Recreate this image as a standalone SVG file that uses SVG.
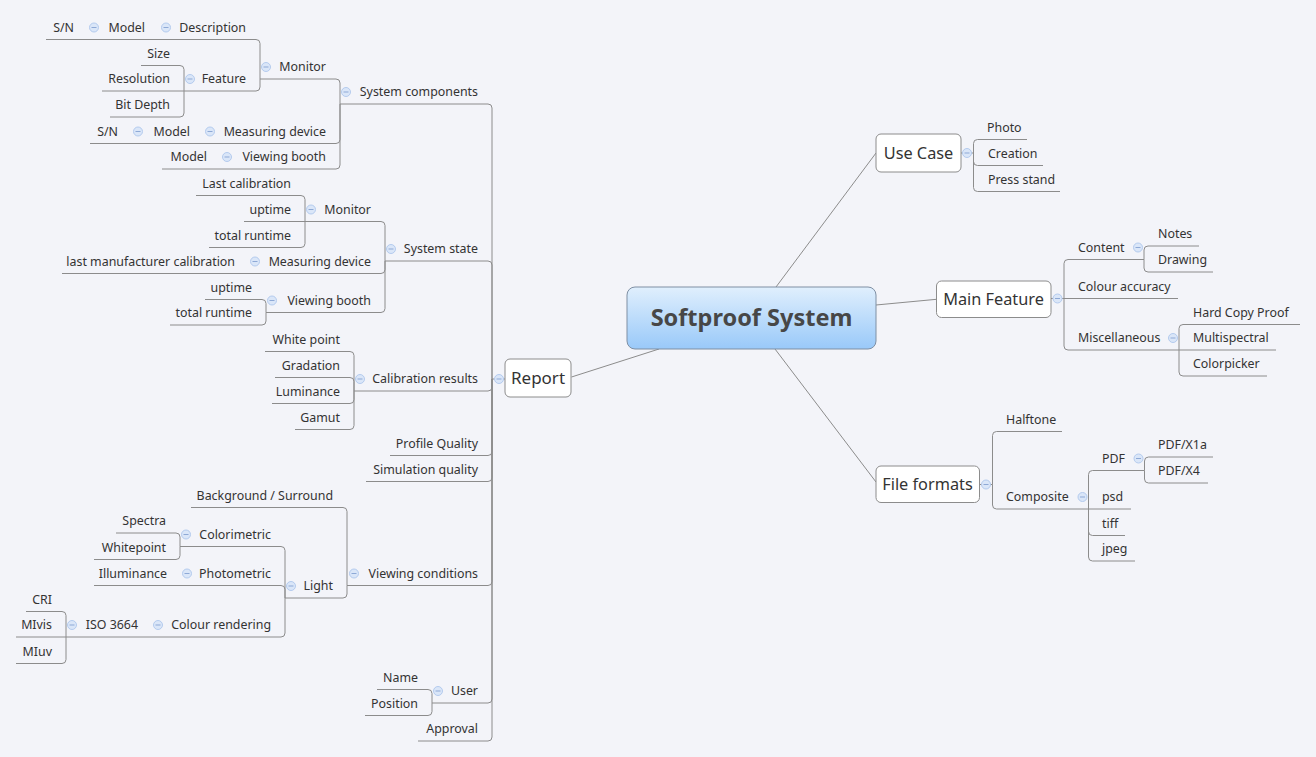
<svg xmlns="http://www.w3.org/2000/svg" width="1316" height="757" viewBox="0 0 1316 757">
<style>
.t{font-family:"Noto Sans","Open Sans",sans-serif;font-size:12.4px;fill:#333}
.e{text-anchor:end}
.bt{font-family:"Noto Sans","Open Sans",sans-serif;font-size:16.3px;fill:#333;text-anchor:middle}
.u{stroke:#8c8c8c;stroke-width:1;fill:none}
.box{fill:#fff;stroke:#8c8c8c;stroke-width:1}
</style>
<defs>
<linearGradient id="cg" x1="0" y1="0" x2="0" y2="1">
<stop offset="0" stop-color="#e0effd"/>
<stop offset="1" stop-color="#99c9f9"/>
</linearGradient>
<g id="tg"><circle r="4.5" fill="#dae6f8" stroke="#b4cbee" stroke-width="1"/><line x1="-2.5" y1="0" x2="2.5" y2="0" stroke="#8ea9d6" stroke-width="1"/></g>
</defs>
<rect width="1316" height="757" fill="#f3f4f9"/>

<g id="connectors" class="u">
<path d="M776,287 L876,153"/>
<path d="M876,305 L936.5,299.3"/>
<path d="M775,349 L876,482"/>
<path d="M659,349 L571.5,377"/>
<!-- Report -->
<path d="M492,379 H505"/>
<path d="M492,379 V108 Q492,104 488,104"/>
<path d="M492,379 V265 Q492,261 488,261"/>
<path d="M492,379 V387 Q492,391 488,391"/>
<path d="M492,379 V451.5 Q492,455.5 488,455.5"/>
<path d="M492,379 V477.5 Q492,481.5 488,481.5"/>
<path d="M492,379 V581.5 Q492,585.5 488,585.5"/>
<path d="M492,379 V699 Q492,703 488,703"/>
<path d="M492,379 V737 Q492,741 488,741"/>
<!-- System components -->
<path d="M340,104 V83 Q340,79 336,79"/>
<path d="M340,104 V139.5 Q340,143.5 336,143.5"/>
<path d="M340,104 V165 Q340,169 336,169"/>
<path d="M260,79 V43.5 Q260,39.5 256,39.5"/>
<path d="M260,79 V87 Q260,91 256,91"/>
<path d="M184,91 V69.5 Q184,65.5 180,65.5"/>
<path d="M184,91 V113 Q184,117 180,117"/>
<!-- System state -->
<path d="M385,261 V225.5 Q385,221.5 381,221.5"/>
<path d="M385,261 V269.5 Q385,273.5 381,273.5"/>
<path d="M385,261 V308.5 Q385,312.5 381,312.5"/>
<path d="M305,221.5 V199.5 Q305,195.5 301,195.5"/>
<path d="M305,221.5 V243.5 Q305,247.5 301,247.5"/>
<path d="M266,312.5 V303.5 Q266,299.5 262,299.5"/>
<path d="M266,312.5 V321 Q266,325 262,325"/>
<!-- Calibration results -->
<path d="M354,391 V355.5 Q354,351.5 350,351.5"/>
<path d="M354,391 V381.5 Q354,377.5 350,377.5"/>
<path d="M354,391 V399.5 Q354,403.5 350,403.5"/>
<path d="M354,391 V425.5 Q354,429.5 350,429.5"/>
<!-- Viewing conditions -->
<path d="M347,585.5 V511.5 Q347,507.5 343,507.5"/>
<path d="M347,585.5 V594 Q347,598 343,598"/>
<path d="M285,598 V550.5 Q285,546.5 281,546.5"/>
<path d="M285,598 V589.5 Q285,585.5 281,585.5"/>
<path d="M285,598 V633 Q285,637 281,637"/>
<path d="M180,546.5 V537 Q180,533 176,533"/>
<path d="M180,546.5 V555.5 Q180,559.5 176,559.5"/>
<path d="M66,637 V615.5 Q66,611.5 62,611.5"/>
<path d="M66,637 V659.5 Q66,663.5 62,663.5"/>
<!-- User -->
<path d="M432,703 V693.5 Q432,689.5 428,689.5"/>
<path d="M432,703 V711.5 Q432,715.5 428,715.5"/>
<!-- Use Case -->
<path d="M961,153 H973.5"/>
<path d="M973.5,153 V143.5 Q973.5,139.5 977.5,139.5"/>
<path d="M973.5,153 V161.5 Q973.5,165.5 977.5,165.5"/>
<path d="M973.5,153 V187.5 Q973.5,191.5 977.5,191.5"/>
<!-- Main Feature -->
<path d="M1051,298.5 H1064"/>
<path d="M1064,298.5 V263.5 Q1064,259.5 1068,259.5"/>
<path d="M1064,298.5 V346 Q1064,350 1068,350"/>
<path d="M1144,259.5 V250 Q1144,246 1148,246"/>
<path d="M1144,259.5 V268 Q1144,272 1148,272"/>
<path d="M1179,350 V328.5 Q1179,324.5 1183,324.5"/>
<path d="M1179,350 V372 Q1179,376 1183,376"/>
<!-- File formats -->
<path d="M979.5,484.5 H992.5"/>
<path d="M992.5,484.5 V435.5 Q992.5,431.5 996.5,431.5"/>
<path d="M992.5,484.5 V505 Q992.5,509 996.5,509"/>
<path d="M1088.5,509 V474.5 Q1088.5,470.5 1092.5,470.5"/>
<path d="M1088.5,509 V531.5 Q1088.5,535.5 1092.5,535.5"/>
<path d="M1088.5,509 V557 Q1088.5,561 1092.5,561"/>
<path d="M1144.5,470.5 V461 Q1144.5,457 1148.5,457"/>
<path d="M1144.5,470.5 V479 Q1144.5,483 1148.5,483"/>
</g>

<g id="central">
<rect x="627" y="287" width="249" height="62" rx="8" fill="url(#cg)" stroke="#7f8fa3" stroke-width="1"/>
<text x="751.5" y="326" style="font-family:'Noto Sans','Open Sans',sans-serif;font-size:23.5px;font-weight:bold;fill:#474747;text-anchor:middle">Softproof System</text>
</g>

<!-- LEFT: Report -->
<g id="report">
<rect class="box" x="505" y="359" width="66" height="38" rx="5"/>
<text class="bt" x="538" y="384" style="font-size:17px">Report</text>
<use href="#tg" x="499" y="379"/>
</g>

<g id="system-components">
<line class="u" x1="340" y1="104" x2="488" y2="104"/>
<text class="t e" x="478" y="96">System components</text>
<use href="#tg" x="346" y="92"/>
</g>
<g id="sc-monitor">
<line class="u" x1="260" y1="79" x2="336" y2="79"/>
<text class="t e" x="326" y="71">Monitor</text>
<use href="#tg" x="266" y="67"/>
</g>
<g id="sc-description">
<line class="u" x1="160" y1="39.5" x2="256" y2="39.5"/>
<text class="t e" x="246" y="31.5">Description</text>
<use href="#tg" x="166" y="27.5"/>
</g>
<g id="sc-desc-model">
<line class="u" x1="88" y1="39.5" x2="160" y2="39.5"/>
<text class="t e" x="145" y="31.5">Model</text>
<use href="#tg" x="94" y="27.5"/>
</g>
<g id="sc-desc-sn">
<line class="u" x1="46" y1="39.5" x2="88" y2="39.5"/>
<text class="t e" x="74" y="31.5">S/N</text>
</g>
<g id="sc-feature">
<line class="u" x1="184" y1="91" x2="256" y2="91"/>
<text class="t e" x="246" y="83">Feature</text>
<use href="#tg" x="190" y="79"/>
</g>
<g id="sc-size">
<line class="u" x1="141" y1="65.5" x2="180" y2="65.5"/>
<text class="t e" x="170" y="57.5">Size</text>
</g>
<g id="sc-resolution">
<line class="u" x1="102" y1="91" x2="184" y2="91"/>
<text class="t e" x="170" y="83">Resolution</text>
</g>
<g id="sc-bitdepth">
<line class="u" x1="110" y1="117" x2="180" y2="117"/>
<text class="t e" x="170" y="109">Bit Depth</text>
</g>
<g id="sc-measuring">
<line class="u" x1="204" y1="143.5" x2="336" y2="143.5"/>
<text class="t e" x="326" y="135.5">Measuring device</text>
<use href="#tg" x="210" y="131.5"/>
</g>
<g id="sc-md-model">
<line class="u" x1="132" y1="143.5" x2="204" y2="143.5"/>
<text class="t e" x="190" y="135.5">Model</text>
<use href="#tg" x="138" y="131.5"/>
</g>
<g id="sc-md-sn">
<line class="u" x1="90" y1="143.5" x2="132" y2="143.5"/>
<text class="t e" x="118" y="135.5">S/N</text>
</g>
<g id="sc-viewing">
<line class="u" x1="221" y1="169" x2="336" y2="169"/>
<text class="t e" x="326" y="161">Viewing booth</text>
<use href="#tg" x="227" y="157"/>
</g>
<g id="sc-vb-model">
<line class="u" x1="162" y1="169" x2="221" y2="169"/>
<text class="t e" x="207" y="161">Model</text>
</g>

<g id="system-state">
<line class="u" x1="385" y1="261" x2="488" y2="261"/>
<text class="t e" x="478" y="253">System state</text>
<use href="#tg" x="391" y="249"/>
</g>
<g id="ss-monitor">
<line class="u" x1="305" y1="221.5" x2="381" y2="221.5"/>
<text class="t e" x="371" y="213.5">Monitor</text>
<use href="#tg" x="311" y="209.5"/>
</g>
<g id="ss-last-cal">
<line class="u" x1="196" y1="195.5" x2="301" y2="195.5"/>
<text class="t e" x="291" y="187.5">Last calibration</text>
</g>
<g id="ss-mon-uptime">
<line class="u" x1="244" y1="221.5" x2="305" y2="221.5"/>
<text class="t e" x="291" y="213.5">uptime</text>
</g>
<g id="ss-mon-total">
<line class="u" x1="209" y1="247.5" x2="301" y2="247.5"/>
<text class="t e" x="291" y="239.5">total runtime</text>
</g>
<g id="ss-measuring">
<line class="u" x1="249" y1="273.5" x2="381" y2="273.5"/>
<text class="t e" x="371" y="265.5">Measuring device</text>
<use href="#tg" x="255" y="261.5"/>
</g>
<g id="ss-lmc">
<line class="u" x1="62" y1="273.5" x2="249" y2="273.5"/>
<text class="t e" x="235" y="265.5">last manufacturer calibration</text>
</g>
<g id="ss-viewing">
<line class="u" x1="266" y1="312.5" x2="381" y2="312.5"/>
<text class="t e" x="371" y="304.5">Viewing booth</text>
<use href="#tg" x="272" y="300.5"/>
</g>
<g id="ss-vb-uptime">
<line class="u" x1="205" y1="299.5" x2="262" y2="299.5"/>
<text class="t e" x="252" y="291.5">uptime</text>
</g>
<g id="ss-vb-total">
<line class="u" x1="170" y1="325" x2="262" y2="325"/>
<text class="t e" x="252" y="317">total runtime</text>
</g>

<g id="calibration-results">
<line class="u" x1="354" y1="391" x2="488" y2="391"/>
<text class="t e" x="478" y="383">Calibration results</text>
<use href="#tg" x="360" y="379"/>
</g>
<g id="cr-white">
<line class="u" x1="265" y1="351.5" x2="350" y2="351.5"/>
<text class="t e" x="340" y="343.5">White point</text>
</g>
<g id="cr-gradation">
<line class="u" x1="275" y1="377.5" x2="350" y2="377.5"/>
<text class="t e" x="340" y="369.5">Gradation</text>
</g>
<g id="cr-luminance">
<line class="u" x1="272" y1="403.5" x2="350" y2="403.5"/>
<text class="t e" x="340" y="395.5">Luminance</text>
</g>
<g id="cr-gamut">
<line class="u" x1="295" y1="429.5" x2="350" y2="429.5"/>
<text class="t e" x="340" y="421.5">Gamut</text>
</g>
<g id="profile-quality">
<line class="u" x1="390" y1="455.5" x2="488" y2="455.5"/>
<text class="t e" x="478" y="447.5">Profile Quality</text>
</g>
<g id="simulation-quality">
<line class="u" x1="366" y1="481.5" x2="488" y2="481.5"/>
<text class="t e" x="478" y="473.5">Simulation quality</text>
</g>

<g id="viewing-conditions">
<line class="u" x1="347" y1="585.5" x2="488" y2="585.5"/>
<text class="t e" x="478" y="577.5">Viewing conditions</text>
<use href="#tg" x="354" y="573.5"/>
</g>
<g id="vc-background">
<line class="u" x1="191" y1="507.5" x2="343" y2="507.5"/>
<text class="t e" x="333" y="499.5">Background / Surround</text>
</g>
<g id="vc-light">
<line class="u" x1="285" y1="598" x2="343" y2="598"/>
<text class="t e" x="333" y="590">Light</text>
<use href="#tg" x="291" y="586"/>
</g>
<g id="vc-colorimetric">
<line class="u" x1="180" y1="546.5" x2="281" y2="546.5"/>
<text class="t e" x="271" y="538.5">Colorimetric</text>
<use href="#tg" x="186" y="534.5"/>
</g>
<g id="vc-spectra">
<line class="u" x1="116" y1="533" x2="176" y2="533"/>
<text class="t e" x="166" y="525">Spectra</text>
</g>
<g id="vc-whitepoint">
<line class="u" x1="94" y1="559.5" x2="176" y2="559.5"/>
<text class="t e" x="166" y="551.5">Whitepoint</text>
</g>
<g id="vc-photometric">
<line class="u" x1="181" y1="585.5" x2="281" y2="585.5"/>
<text class="t e" x="271" y="577.5">Photometric</text>
<use href="#tg" x="187" y="573.5"/>
</g>
<g id="vc-illuminance">
<line class="u" x1="94" y1="585.5" x2="181" y2="585.5"/>
<text class="t e" x="167" y="577.5">Illuminance</text>
</g>
<g id="vc-colour-rendering">
<line class="u" x1="152" y1="637" x2="281" y2="637"/>
<text class="t e" x="271" y="629">Colour rendering</text>
<use href="#tg" x="158" y="625"/>
</g>
<g id="vc-iso">
<line class="u" x1="66" y1="637" x2="152" y2="637"/>
<text class="t e" x="138" y="629">ISO 3664</text>
<use href="#tg" x="72" y="625"/>
</g>
<g id="vc-cri">
<line class="u" x1="26" y1="611.5" x2="62" y2="611.5"/>
<text class="t e" x="52" y="603.5">CRI</text>
</g>
<g id="vc-mivis">
<line class="u" x1="16" y1="637" x2="66" y2="637"/>
<text class="t e" x="52" y="629">MIvis</text>
</g>
<g id="vc-miuv">
<line class="u" x1="16" y1="663.5" x2="62" y2="663.5"/>
<text class="t e" x="52" y="655.5">MIuv</text>
</g>

<g id="user">
<line class="u" x1="432" y1="703" x2="488" y2="703"/>
<text class="t e" x="478" y="695">User</text>
<use href="#tg" x="438" y="691"/>
</g>
<g id="user-name">
<line class="u" x1="377" y1="689.5" x2="428" y2="689.5"/>
<text class="t e" x="418" y="681.5">Name</text>
</g>
<g id="user-position">
<line class="u" x1="365" y1="715.5" x2="428" y2="715.5"/>
<text class="t e" x="418" y="707.5">Position</text>
</g>
<g id="approval">
<line class="u" x1="418" y1="741" x2="488" y2="741"/>
<text class="t e" x="478" y="733">Approval</text>
</g>

<!-- RIGHT: Use Case -->
<g id="use-case">
<rect class="box" x="876" y="134" width="85" height="38" rx="5"/>
<text class="bt" x="918.5" y="159">Use Case</text>
<use href="#tg" x="967" y="153"/>
</g>
<g id="uc-photo">
<line class="u" x1="977.5" y1="139.5" x2="1027" y2="139.5"/>
<text class="t" x="987" y="131.5">Photo</text>
</g>
<g id="uc-creation">
<line class="u" x1="977.5" y1="165.5" x2="1043" y2="165.5"/>
<text class="t" x="988" y="157.5">Creation</text>
</g>
<g id="uc-press">
<line class="u" x1="977.5" y1="191.5" x2="1060" y2="191.5"/>
<text class="t" x="988" y="183.5">Press stand</text>
</g>

<g id="main-feature">
<rect class="box" x="936.5" y="281" width="114.5" height="36.5" rx="5"/>
<text class="bt" x="993.5" y="305">Main Feature</text>
<use href="#tg" x="1057.5" y="298.5"/>
</g>
<g id="mf-content">
<line class="u" x1="1068" y1="259.5" x2="1144" y2="259.5"/>
<text class="t" x="1078" y="251.5">Content</text>
<use href="#tg" x="1138" y="247.5"/>
</g>
<g id="mf-notes">
<line class="u" x1="1148" y1="246" x2="1199" y2="246"/>
<text class="t" x="1158" y="238">Notes</text>
</g>
<g id="mf-drawing">
<line class="u" x1="1148" y1="272" x2="1213" y2="272"/>
<text class="t" x="1158" y="264">Drawing</text>
</g>
<g id="mf-colour-accuracy">
<line class="u" x1="1064" y1="298.5" x2="1178" y2="298.5"/>
<text class="t" x="1078" y="290.5">Colour accuracy</text>
</g>
<g id="mf-misc">
<line class="u" x1="1068" y1="350" x2="1179" y2="350"/>
<text class="t" x="1078" y="342">Miscellaneous</text>
<use href="#tg" x="1173" y="338"/>
</g>
<g id="mf-hcp">
<line class="u" x1="1183" y1="324.5" x2="1300" y2="324.5"/>
<text class="t" x="1193" y="316.5">Hard Copy Proof</text>
</g>
<g id="mf-multispectral">
<line class="u" x1="1179" y1="350" x2="1276" y2="350"/>
<text class="t" x="1193" y="342">Multispectral</text>
</g>
<g id="mf-colorpicker">
<line class="u" x1="1183" y1="376" x2="1267" y2="376"/>
<text class="t" x="1193" y="368">Colorpicker</text>
</g>

<g id="file-formats">
<rect class="box" x="876" y="466" width="103.5" height="36.5" rx="5"/>
<text class="bt" x="927.5" y="490">File formats</text>
<use href="#tg" x="986" y="484.5"/>
</g>
<g id="ff-halftone">
<line class="u" x1="996.5" y1="431.5" x2="1062" y2="431.5"/>
<text class="t" x="1006" y="423.5">Halftone</text>
</g>
<g id="ff-composite">
<line class="u" x1="996.5" y1="509" x2="1088.5" y2="509"/>
<text class="t" x="1006" y="501">Composite</text>
<use href="#tg" x="1082.5" y="497"/>
</g>
<g id="ff-pdf">
<line class="u" x1="1092.5" y1="470.5" x2="1144.5" y2="470.5"/>
<text class="t" x="1102" y="462.5">PDF</text>
<use href="#tg" x="1138.5" y="458.5"/>
</g>
<g id="ff-pdfx1a">
<line class="u" x1="1148.5" y1="457" x2="1213" y2="457"/>
<text class="t" x="1158" y="449">PDF/X1a</text>
</g>
<g id="ff-pdfx4">
<line class="u" x1="1148.5" y1="483" x2="1208" y2="483"/>
<text class="t" x="1158" y="475">PDF/X4</text>
</g>
<g id="ff-psd">
<line class="u" x1="1088.5" y1="509" x2="1131" y2="509"/>
<text class="t" x="1102" y="501">psd</text>
</g>
<g id="ff-tiff">
<line class="u" x1="1092.5" y1="535.5" x2="1125" y2="535.5"/>
<text class="t" x="1102" y="527.5">tiff</text>
</g>
<g id="ff-jpeg">
<line class="u" x1="1092.5" y1="561" x2="1135" y2="561"/>
<text class="t" x="1102" y="553">jpeg</text>
</g>
</svg>
